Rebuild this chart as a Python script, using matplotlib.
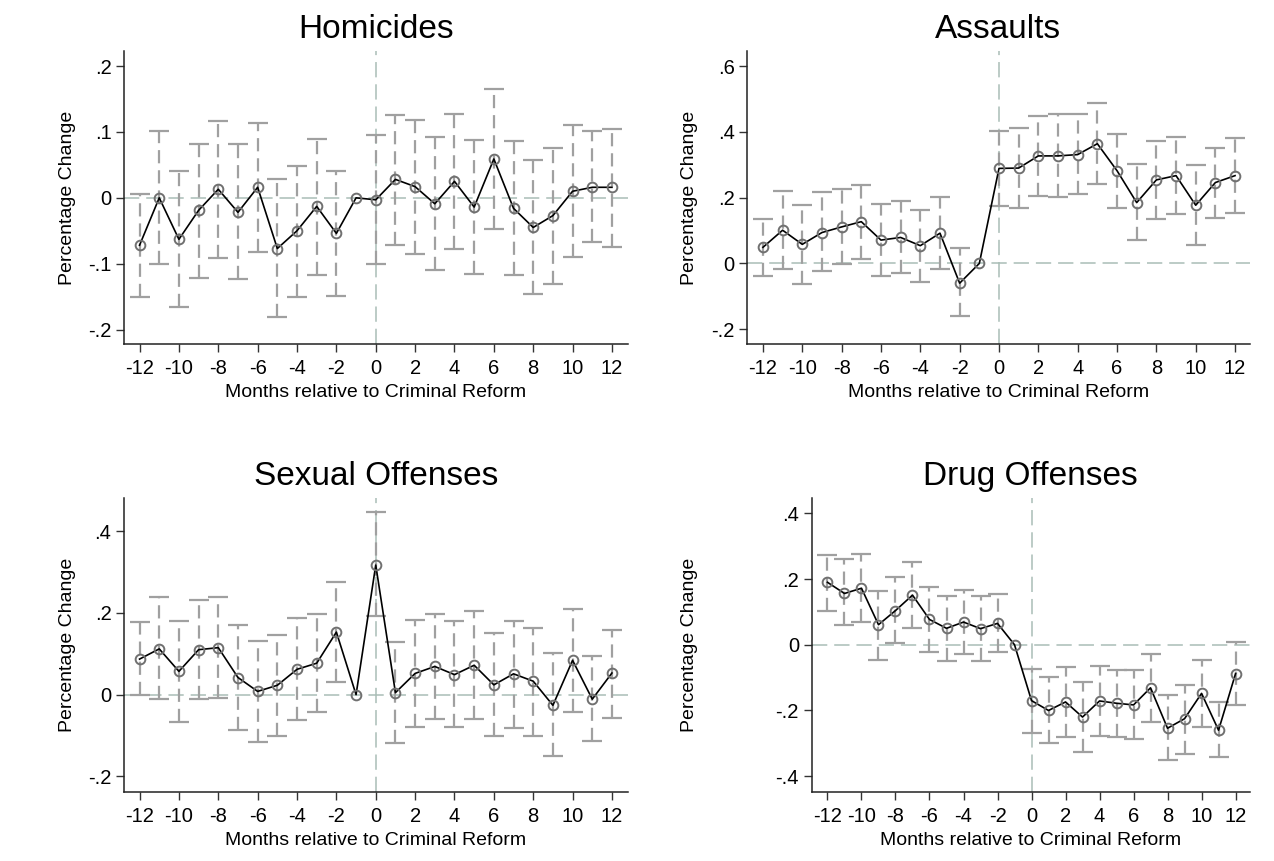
import numpy as np
import matplotlib
matplotlib.use("Agg")
import matplotlib.pyplot as plt

plt.rcParams["font.family"] = ["Liberation Sans", "DejaVu Sans"]
plt.rcParams["lines.scale_dashes"] = False

months = list(range(-12, 13))
xtick_vals = [-12, -10, -8, -6, -4, -2, 0, 2, 4, 6, 8, 10, 12]
nan = np.nan

# event-study coefficients and 95% CI bounds (month -1 is the omitted reference)
hom_coef = [-0.072, 0.000, -0.063, -0.019, 0.013, -0.022, 0.016, -0.077, -0.050, -0.013, -0.054, 0.000,
            -0.003, 0.028, 0.017, -0.009, 0.025, -0.014, 0.059, -0.016, -0.045, -0.027, 0.010, 0.016, 0.016]
hom_lo = [-0.150, -0.101, -0.166, -0.122, -0.091, -0.123, -0.083, -0.181, -0.151, -0.117, -0.149, nan,
          -0.101, -0.071, -0.085, -0.109, -0.077, -0.115, -0.048, -0.117, -0.146, -0.131, -0.090, -0.067, -0.074]
hom_hi = [0.006, 0.102, 0.041, 0.082, 0.116, 0.081, 0.114, 0.028, 0.049, 0.090, 0.040, nan,
          0.096, 0.126, 0.118, 0.093, 0.128, 0.088, 0.165, 0.087, 0.057, 0.076, 0.110, 0.102, 0.105]

ass_coef = [0.049, 0.101, 0.058, 0.094, 0.111, 0.127, 0.071, 0.079, 0.054, 0.092, -0.060, 0.000,
            0.289, 0.290, 0.327, 0.327, 0.331, 0.364, 0.282, 0.185, 0.254, 0.267, 0.177, 0.246, 0.267]
ass_lo = [-0.037, -0.016, -0.063, -0.024, -0.002, 0.013, -0.039, -0.030, -0.055, -0.017, -0.160, nan,
          0.175, 0.169, 0.205, 0.202, 0.211, 0.243, 0.169, 0.071, 0.135, 0.150, 0.057, 0.139, 0.153]
ass_hi = [0.135, 0.221, 0.178, 0.216, 0.227, 0.239, 0.181, 0.191, 0.162, 0.201, 0.046, nan,
          0.404, 0.412, 0.449, 0.455, 0.453, 0.488, 0.395, 0.302, 0.372, 0.385, 0.298, 0.351, 0.380]

sex_coef = [0.087, 0.112, 0.057, 0.110, 0.115, 0.042, 0.008, 0.023, 0.062, 0.077, 0.153, 0.000,
            0.317, 0.005, 0.052, 0.069, 0.049, 0.072, 0.024, 0.051, 0.033, -0.026, 0.084, -0.011, 0.053]
sex_lo = [-0.002, -0.011, -0.066, -0.011, -0.009, -0.086, -0.116, -0.100, -0.062, -0.043, 0.032, nan,
          0.192, -0.119, -0.079, -0.059, -0.080, -0.059, -0.101, -0.081, -0.100, -0.151, -0.043, -0.114, -0.056]
sex_hi = [0.177, 0.239, 0.181, 0.231, 0.240, 0.170, 0.132, 0.147, 0.187, 0.198, 0.275, nan,
          0.446, 0.130, 0.183, 0.197, 0.181, 0.204, 0.152, 0.180, 0.163, 0.101, 0.209, 0.094, 0.159]

drug_coef = [0.190, 0.156, 0.172, 0.061, 0.104, 0.151, 0.077, 0.050, 0.069, 0.049, 0.065, 0.000,
             -0.170, -0.200, -0.174, -0.220, -0.171, -0.178, -0.183, -0.131, -0.254, -0.225, -0.148, -0.260, -0.088]
drug_lo = [0.103, 0.059, 0.068, -0.045, 0.004, 0.051, -0.021, -0.049, -0.027, -0.048, -0.023, nan,
           -0.268, -0.300, -0.282, -0.327, -0.279, -0.281, -0.287, -0.236, -0.352, -0.332, -0.249, -0.343, -0.184]
drug_hi = [0.274, 0.260, 0.276, 0.164, 0.205, 0.251, 0.177, 0.147, 0.167, 0.147, 0.155, nan,
           -0.074, -0.098, -0.067, -0.114, -0.064, -0.076, -0.078, -0.028, -0.154, -0.123, -0.046, -0.175, 0.007]

hom_yticks = [0.2, 0.1, 0.0, -0.1, -0.2]
hom_ylabels = [".2", ".1", "0", "-.1", "-.2"]
ass_yticks = [0.6, 0.4, 0.2, 0.0, -0.2]
ass_ylabels = [".6", ".4", ".2", "0", "-.2"]
sex_yticks = [0.4, 0.2, 0.0, -0.2]
sex_ylabels = [".4", ".2", "0", "-.2"]
drug_yticks = [0.4, 0.2, 0.0, -0.2, -0.4]
drug_ylabels = [".4", ".2", "0", "-.2", "-.4"]

W, H = 1274, 861
fig = plt.figure(figsize=(W / 100, H / 100), dpi=100)
fig.patch.set_facecolor("white")

CI_COLOR = "#a0a0a0"
REF_COLOR = "#a9bdb6"


def px_axes(left, top, right, bottom):
    return fig.add_axes([left / W, (H - bottom) / H, (right - left) / W, (bottom - top) / H])


def panel(ax, title, coef, lo, hi, yticks, ylabels, xlim, ylim, ylab_x):
    x = np.array(months, dtype=float)
    coef = np.array(coef)
    lo = np.array(lo)
    hi = np.array(hi)
    ok = ~np.isnan(lo)

    ax.axhline(0, color=REF_COLOR, lw=1.1, ls=(0, (11, 5)), zorder=1)
    ax.axvline(0, color=REF_COLOR, lw=1.1, ls=(0, (11, 5)), zorder=1)

    eb = ax.errorbar(x[ok], coef[ok], yerr=[coef[ok] - lo[ok], hi[ok] - coef[ok]],
                     fmt="none", ecolor=CI_COLOR, elinewidth=1.6, capsize=7, capthick=1.6, zorder=2)
    eb.lines[2][0].set_linestyle((0, (9.5, 5)))

    ax.plot(x, coef, color="black", lw=1.2, zorder=3)
    ax.plot(x, coef, ls="none", marker="o", ms=7, mfc="none", mec="#707070", mew=1.4, zorder=4)

    ax.set_xlim(*xlim)
    ax.set_ylim(*ylim)
    ax.set_xticks(xtick_vals)
    ax.set_xticklabels([str(v) for v in xtick_vals])
    ax.set_yticks(yticks)
    ax.set_yticklabels(ylabels)
    ax.tick_params(axis="both", labelsize=14.5, length=6, width=1, direction="out", color="#333333")
    ax.tick_params(axis="x", pad=5)
    ax.tick_params(axis="y", pad=3)
    for s in ["top", "right"]:
        ax.spines[s].set_visible(False)
    for s in ["left", "bottom"]:
        ax.spines[s].set_linewidth(1.1)
        ax.spines[s].set_color("#222222")

    bb = ax.get_position()
    cx = (bb.x0 + bb.x1) / 2
    fig.text(cx, bb.y1 + 13 / H, title, ha="center", va="baseline", fontsize=24)
    fig.text(cx, bb.y0 - 53 / H, "Months relative to Criminal Reform", ha="center", va="baseline", fontsize=14)
    fig.text(ylab_x / W, (bb.y0 + bb.y1) / 2, "Percentage Change", rotation=90,
             ha="center", va="center", fontsize=14)


ax1 = px_axes(124, 51, 627.5, 344)
panel(ax1, "Homicides", hom_coef, hom_lo, hom_hi, hom_yticks, hom_ylabels,
      (-12.79, 12.79), (-0.222, 0.223), 68)

ax2 = px_axes(747, 51, 1250, 344)
panel(ax2, "Assaults", ass_coef, ass_lo, ass_hi, ass_yticks, ass_ylabels,
      (-12.81, 12.76), (-0.245, 0.646), 690)

ax3 = px_axes(124, 498, 627.5, 792)
panel(ax3, "Sexual Offenses", sex_coef, sex_lo, sex_hi, sex_yticks, sex_ylabels,
      (-12.79, 12.79), (-0.238, 0.481), 68)

ax4 = px_axes(811.5, 498, 1250, 792)
panel(ax4, "Drug Offenses", drug_coef, drug_lo, drug_hi, drug_yticks, drug_ylabels,
      (-12.94, 12.85), (-0.448, 0.4465), 690)

fig.savefig("out.png", dpi=100, facecolor="white")
